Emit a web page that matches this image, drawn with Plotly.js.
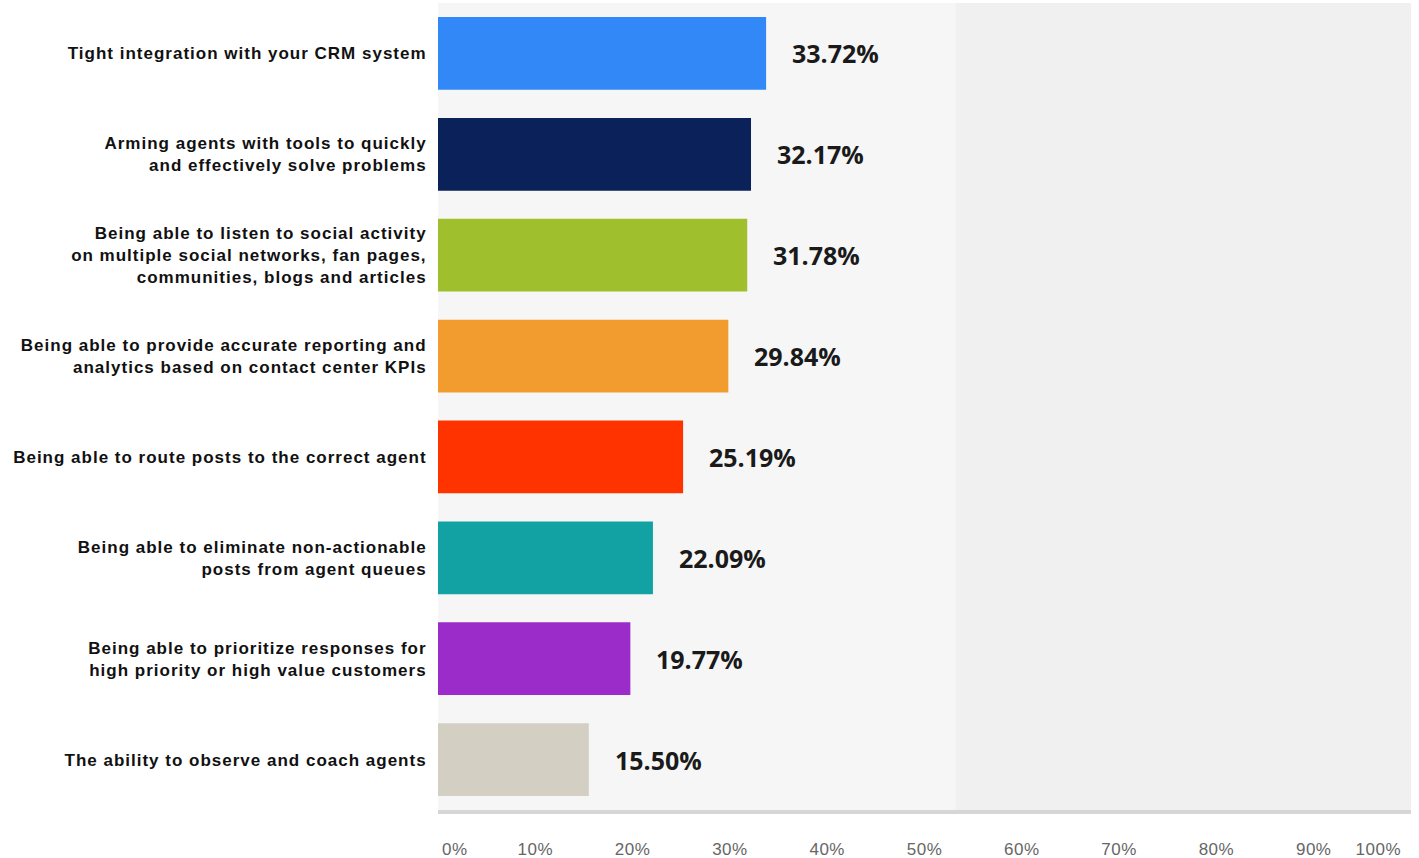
<!DOCTYPE html>
<html>
<head>
<meta charset="utf-8">
<script src="https://cdn.plot.ly/plotly-3.0.1.min.js"></script>
<style>
html,body{margin:0;padding:0;background:#fff;}
#chart{width:1419px;height:858px;}
#chart .ytick text{letter-spacing:1.0px;}
#chart .xtick text, #chart .x2tick text, #chart .x3tick text{letter-spacing:0.5px;}
</style>
</head>
<body>
<div id="chart"></div>
<script>
const categories = [
  "Tight integration with your CRM system",
  "Arming agents with tools to quickly<br>and effectively solve problems",
  "Being able to listen to social activity<br>on multiple social networks, fan pages,<br>communities, blogs and articles",
  "Being able to provide accurate reporting and<br>analytics based on contact center KPIs",
  "Being able to route posts to the correct agent",
  "Being able to eliminate non-actionable<br>posts from agent queues",
  "Being able to prioritize responses for<br>high priority or high value customers",
  "The ability to observe and coach agents"
];
const values = [33.72, 32.17, 31.78, 29.84, 25.19, 22.09, 19.77, 15.50];
const valueLabels = ["33.72%", "32.17%", "31.78%", "29.84%", "25.19%", "22.09%", "19.77%", "15.50%"];
const barColors = ["#3388f7", "#0b2159", "#9fbf2c", "#f29b2f", "#ff3300", "#12a2a3", "#9c2cc9", "#d3cfc3"];
const tickVals = [0, 10, 20, 30, 40, 50, 60, 70, 80, 90, 100];
const tickText = ["0%", "10%", "20%", "30%", "40%", "50%", "60%", "70%", "80%", "90%", "100%"];

const last = tickVals.length - 1;
const tickFont = {family: "Liberation Sans, Arial, sans-serif", size: 17, color: "#666666"};

const traces = [
  {
    type: "bar",
    orientation: "h",
    x: values,
    y: categories,
    marker: {color: barColors, line: {width: 0}},
    hoverinfo: "x+y"
  },
  {type: "scatter", x: [], y: [], xaxis: "x2", yaxis: "y", showlegend: false, hoverinfo: "skip"},
  {type: "scatter", x: [], y: [], xaxis: "x3", yaxis: "y", showlegend: false, hoverinfo: "skip"}
];

const annotations = values.map((v, i) => ({
  x: v, y: categories[i], xref: "x", yref: "y",
  text: valueLabels[i], showarrow: false,
  xanchor: "left", yanchor: "middle", xshift: 24,
  font: {family: "Open Sans, sans-serif", size: 25, color: "#1a1a1a", weight: "bold"}
}));

const baseX = {
  range: [tickVals[0], tickVals[last]],
  showgrid: false, zeroline: false,
  ticks: "outside", ticklen: 21, tickcolor: "rgba(0,0,0,0)",
  tickfont: tickFont,
  fixedrange: true
};

const layout = {
  width: 1419, height: 858,
  margin: {l: 438, r: 8, t: 3, b: 48},
  paper_bgcolor: "#ffffff",
  plot_bgcolor: "#f0f0f0",
  bargap: 0.28,
  showlegend: false,
  shapes: [{
    type: "rect", xref: "paper", yref: "paper",
    x0: 0, x1: 0.532, y0: 0, y1: 1,
    fillcolor: "#f6f6f6", line: {width: 0}, layer: "below"
  }],
  xaxis: Object.assign({}, baseX, {
    tickvals: tickVals.slice(1, last), ticktext: tickText.slice(1, last),
    showline: true, linecolor: "#d6d6d6", linewidth: 4
  }),
  // first and last tick labels sit inside the plot edges, as in the reference
  xaxis2: Object.assign({}, baseX, {
    overlaying: "x", anchor: "y", side: "bottom", showline: false,
    ticks: "", ticklen: 0,
    tickvals: [tickVals[last]], ticktext: [tickText[last]],
    ticklabelposition: "outside left", ticklabelshift: -10, ticklabelstandoff: 27
  }),
  xaxis3: Object.assign({}, baseX, {
    overlaying: "x", anchor: "y", side: "bottom", showline: false,
    ticks: "", ticklen: 0,
    tickvals: [tickVals[0]], ticktext: [tickText[0]],
    ticklabelposition: "outside right", ticklabelshift: 4, ticklabelstandoff: 27
  }),
  yaxis: {
    autorange: "reversed",
    showgrid: false, zeroline: false, showline: false,
    ticks: "outside", ticklen: 7, tickcolor: "rgba(0,0,0,0)",
    tickfont: {family: "Liberation Sans, Arial, sans-serif", size: 17, color: "#111111", weight: "bold"},
    fixedrange: true
  },
  annotations: annotations
};

Plotly.newPlot("chart", traces, layout, {displayModeBar: false, staticPlot: true});
</script>
</body>
</html>
